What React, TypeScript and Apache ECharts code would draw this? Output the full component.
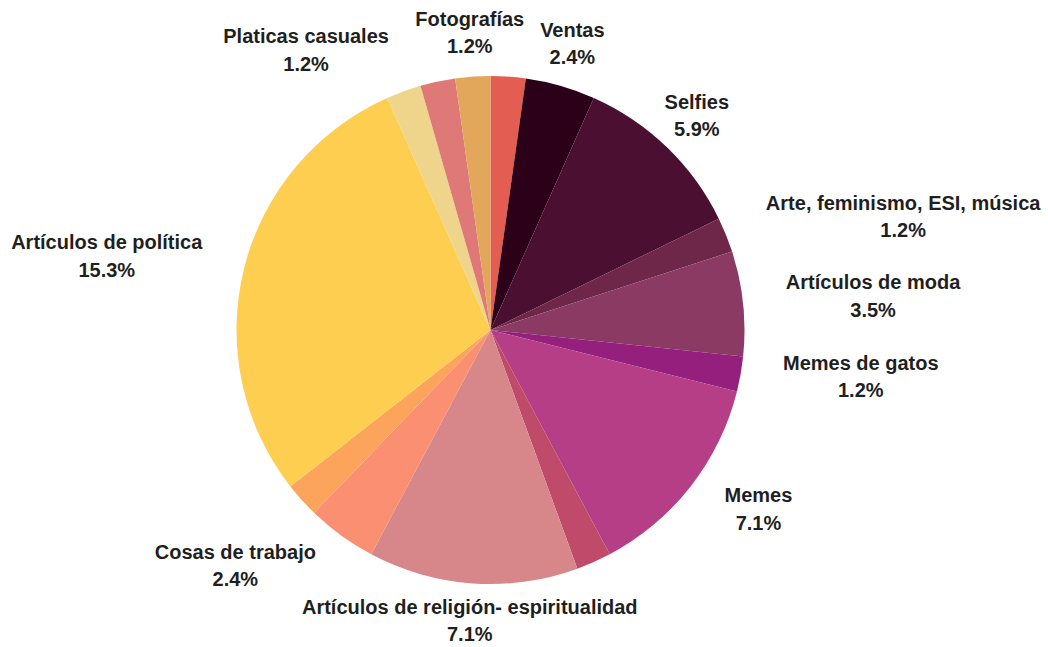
import React, { useEffect, useRef } from "react";
import * as echarts from "echarts";

// Slices clockwise from the top (values in counts)
const categories = [
  "",
  "Ventas",
  "Selfies",
  "Arte, feminismo, ESI, música",
  "Artículos de moda",
  "Memes de gatos",
  "Memes",
  " ",
  "Artículos de religión- espiritualidad",
  "Cosas de trabajo",
  "  ",
  "Artículos de política",
  "Platicas casuales",
  "   ",
  "Fotografías",
];
const values = [1, 2, 5, 1, 3, 1, 6, 1, 6, 2, 1, 13, 1, 1, 1];
// Percent texts as printed on the chart (null = no label shown)
const shownPercent: (string | null)[] = [
  null, "2.4", "5.9", "1.2", "3.5", "1.2", "7.1", null, "7.1", "2.4", null, "15.3", "1.2", null, "1.2",
];
const colors = [
  "#e35d52", "#2d0019", "#4b0f31", "#6e2649", "#8a3a63", "#951f7c", "#b63e86", "#c04a6a",
  "#d7868a", "#fb8f71", "#fca35c", "#fdce50", "#efd58b", "#df7977", "#e3a75b",
];
const labelAlign = [
  "center", "center", "center", "left", "left", "left", "left", "center",
  "center", "right", "right", "right", "right", "center", "center",
];
const labelDy = [0, -1, -1, -2, -3, -5, -4, 0, -6, -5, 0, -2, -1, 0, -1];

export default function App() {
  const ref = useRef<HTMLDivElement>(null);
  useEffect(() => {
    if (!ref.current) return;
    const chart = echarts.init(ref.current, null, { renderer: "svg" });
    const font = {
      fontFamily: "Liberation Sans, Arial, sans-serif",
      fontWeight: "bold",
      fontSize: 20,
      lineHeight: 27.5,
      color: "#1f1f1f",
      align: "center",
    };
    chart.setOption({
      animation: false,
      backgroundColor: "#ffffff",
      series: [
        {
          type: "pie",
          center: [490.5, 330],
          radius: 254,
          startAngle: 90,
          clockwise: true,
          avoidLabelOverlap: false,
          minShowLabelAngle: 0,
          itemStyle: { borderWidth: 0 },
          emphasis: { disabled: true },
          label: {
            show: true,
            position: "outside",
            distanceToLabelLine: 0,
            bleedMargin: 0,
            overflow: "none",
            ...font,
            rich: { n: { ...font }, p: { ...font } },
            formatter: (p: any) =>
              "{n|" + p.name + "}\n{p|" + shownPercent[p.dataIndex] + "%}",
          },
          labelLine: { show: false, length: 43, length2: 0 },
          labelLayout: (p: any) => ({
            align: labelAlign[p.dataIndex],
            verticalAlign: "middle",
            dy: labelDy[p.dataIndex],
          }),
          data: values.map((v, i) => ({
            value: v,
            name: categories[i],
            itemStyle: { color: colors[i] },
            label: { show: shownPercent[i] !== null },
          })),
        },
      ],
    });
    return () => chart.dispose();
  }, []);
  return (
    <div
      ref={ref}
      style={{ position: "fixed", left: 0, top: 0, width: 1048, height: 647 }}
    />
  );
}
